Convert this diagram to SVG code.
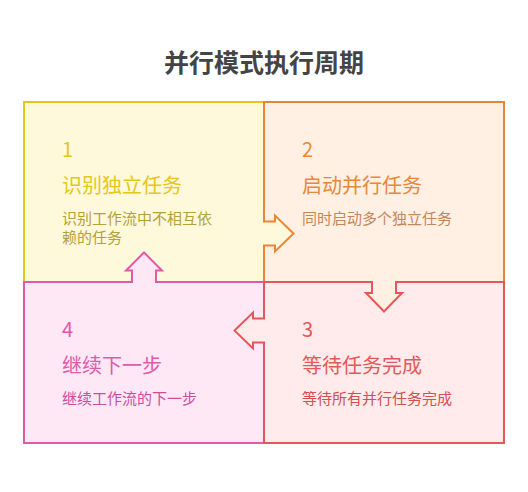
<svg xmlns="http://www.w3.org/2000/svg" width="528" height="492" viewBox="0 0 528 492">
<style>
text{font-family:"Noto Sans CJK SC","Noto Sans",sans-serif;}
.title{font-size:25px;font-weight:bold;fill:#444444;}
.num{font-size:20px;}
.head{font-size:20px;}
.desc{font-size:15px;}
.box{stroke-width:2;}
.arr{fill:none;stroke-width:2;stroke-linejoin:miter;}
.c1{fill:#FFF9DB;stroke:#E6C619;}
.c2{fill:#FFF0E3;stroke:#E8873A;}
.c3{fill:#FFEBEB;stroke:#E5585A;}
.c4{fill:#FFE8F6;stroke:#E05AAA;}
</style>
<rect width="528" height="492" fill="#FFFFFF"/>
<text class="title" x="264" y="72" text-anchor="middle">并行模式执行周期</text>

<g id="node1">
<rect class="box c1" x="24" y="102" width="240" height="180"/>
<text class="num" x="62" y="157" fill="#E6C619">1</text>
<text class="head" x="62" y="193" fill="#E6C619">识别独立任务</text>
<text class="desc" x="62" y="224" fill="#B3A13A">识别工作流中不相互依</text>
<text class="desc" x="62" y="243" fill="#B3A13A">赖的任务</text>
</g>

<g id="node2">
<rect class="box c2" x="264" y="102" width="240" height="180"/>
<text class="num" x="302" y="157" fill="#E8873A">2</text>
<text class="head" x="302" y="193" fill="#E8873A">启动并行任务</text>
<text class="desc" x="302" y="224" fill="#C4875A">同时启动多个独立任务</text>
</g>

<g id="node4">
<rect class="box c4" x="24" y="282" width="240" height="161"/>
<text class="num" x="62" y="337" fill="#E05AAA">4</text>
<text class="head" x="62" y="373" fill="#E05AAA">继续下一步</text>
<text class="desc" x="62" y="404" fill="#CC4E9A">继续工作流的下一步</text>
</g>

<g id="node3">
<rect class="box c3" x="264" y="282" width="240" height="161"/>
<text class="num" x="302" y="337" fill="#E5585A">3</text>
<text class="head" x="302" y="373" fill="#E5585A">等待任务完成</text>
<text class="desc" x="302" y="404" fill="#D54E50">等待所有并行任务完成</text>
</g>

<g id="connectors">
<!-- 1 -> 2 -->
<path d="M261,221.5 H275 V215.5 L293.5,233.5 L275,251.5 V245.5 H261 Z" fill="#FFF9DB"/>
<path class="arr" d="M263,221.5 H275 V215.5 L293.5,233.5 L275,251.5 V245.5 H263" stroke="#E8873A"/>
<!-- 2 -> 3 -->
<path d="M372,279 V293 H366 L384,311.5 L402,293 H396 V279 Z" fill="#FFF0E3"/>
<path class="arr" d="M372,281 V293 H366 L384,311.5 L402,293 H396 V281" stroke="#E5585A"/>
<!-- 3 -> 4 -->
<path d="M267,318.5 H253 V312.5 L234.5,330.5 L253,348.5 V342.5 H267 Z" fill="#FFEBEB"/>
<path class="arr" d="M265,318.5 H253 V312.5 L234.5,330.5 L253,348.5 V342.5 H265" stroke="#E5585A"/>
<!-- 4 -> 1 -->
<path d="M132,285 V270.5 H126 L144,252.5 L162,270.5 H156 V285 Z" fill="#FFE8F6"/>
<path class="arr" d="M132,283 V270.5 H126 L144,252.5 L162,270.5 H156 V283" stroke="#E05AAA"/>
</g>
</svg>
